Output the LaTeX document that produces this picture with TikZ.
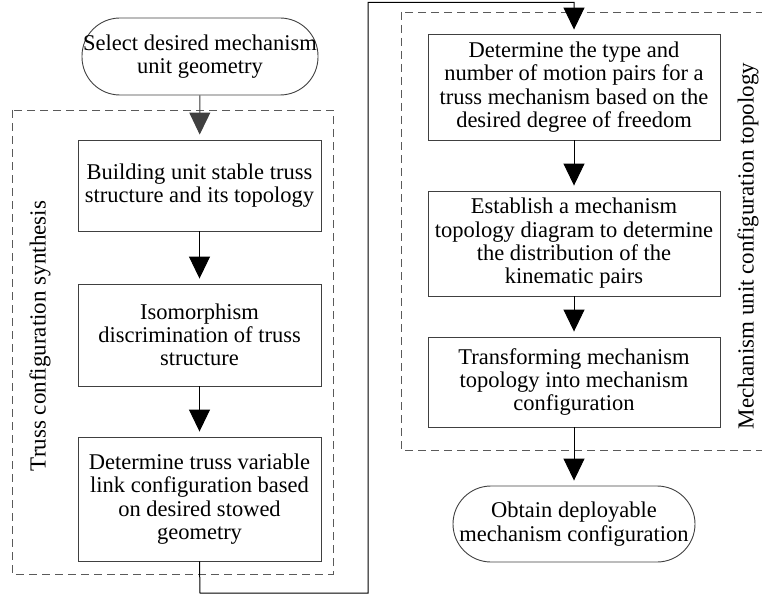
\documentclass[tikz,border=0pt]{standalone}
\usepackage{fontspec}
\setmainfont{Liberation Serif}
\usetikzlibrary{arrows.meta}
\definecolor{boxline}{HTML}{404040}
\definecolor{dashline}{HTML}{5a5a5a}
\begin{document}
\begin{tikzpicture}[x=1pt,y=-1pt,
  txt/.style={font=\fontsize{22.5}{23.3}\selectfont, align=center, inner sep=0pt},
  procbox/.style={txt, draw=boxline, line width=0.9pt, rectangle},
  termbox/.style={txt, draw=boxline, line width=0.9pt, rounded corners=38pt},
  group/.style={draw=dashline, line width=0.9pt, dash pattern=on 8pt off 5pt},
  flow/.style={line width=1pt, -{Triangle[length=22pt,width=21pt]}, shorten >=5pt},
  grouplabel/.style={font=\fontsize{23}{24}\selectfont, rotate=90, inner sep=0pt}]
\useasboundingbox (0,0) rectangle (762,599);

% dashed group frames
\draw[group] (12,110) rectangle (333,574);
\draw[group] (401,12) rectangle (775,450);
\node[grouplabel] (lblL) at (40,336) {Truss configuration synthesis};
\node[grouplabel] (lblR) at (748,246) {Mechanism unit configuration topology};

% left column
\node[termbox, minimum width=236pt, minimum height=77pt] (start) at (200,56.5)
  {Select desired mechanism\\unit geometry};
\node[procbox, minimum width=243pt, minimum height=91pt] (b1) at (199.5,185.5)
  {Building unit stable truss\\structure and its topology};
\node[procbox, minimum width=243pt, minimum height=102pt] (b2) at (199.5,335)
  {Isomorphism\\discrimination of truss\\structure};
\node[procbox, minimum width=243pt, minimum height=124pt] (b3) at (199.5,499)
  {Determine truss variable\\link configuration based\\on desired stowed\\geometry};

% right column
\node[procbox, minimum width=292pt, minimum height=106pt] (r1) at (574,87)
  {Determine the type and\\number of motion pairs for a\\truss mechanism based on the\\desired degree of freedom};
\node[procbox, minimum width=292pt, minimum height=105pt] (r2) at (574,243.5)
  {Establish a mechanism\\topology diagram to determine\\the distribution of the\\kinematic pairs};
\node[procbox, minimum width=292pt, minimum height=90pt] (r3) at (574,382)
  {Transforming mechanism\\topology into mechanism\\configuration};
\node[termbox, minimum width=242pt, minimum height=76pt] (end) at (574,524)
  {Obtain deployable\\mechanism configuration};

% connectors
\draw[flow, draw=boxline, fill=boxline] (start) -- (b1);
\draw[flow] (b1) -- (b2);
\draw[flow] (b2) -- (b3);
\coordinate (c1) at (200,593);
\coordinate (c2) at (368,593);
\coordinate (c3) at (368,2.5);
\coordinate (c4) at (574,2.5);
\draw[flow, shorten >=4pt] (b3.south) -- (c1) -- (c2) -- (c3) -- (c4) -- (r1.north);
\draw[flow] (r1) -- (r2);
\draw[flow] (r2) -- (r3);
\draw[flow] (r3) -- (end);
\end{tikzpicture}
\end{document}
